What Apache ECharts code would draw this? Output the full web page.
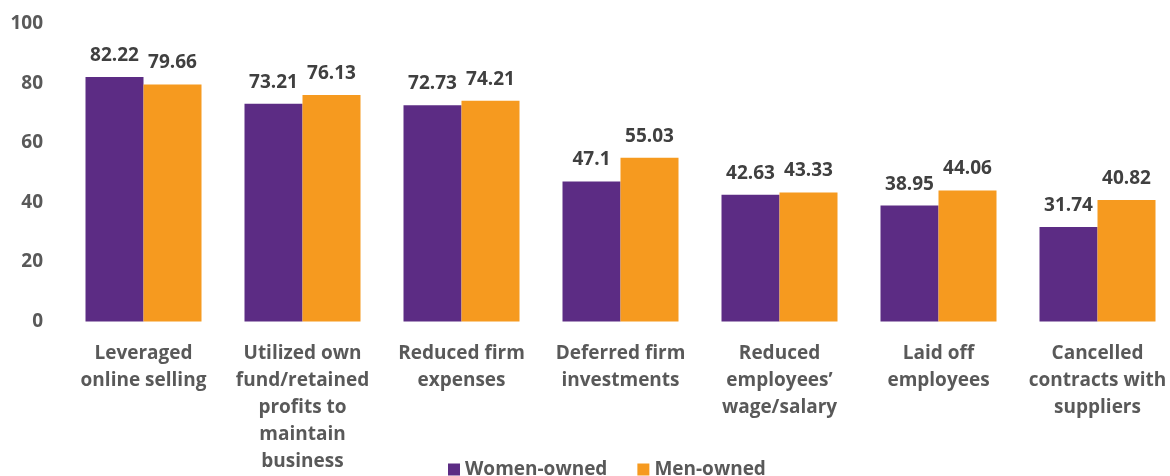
<!DOCTYPE html>
<html>
<head>
<meta charset="utf-8">
<script src="https://cdn.jsdelivr.net/npm/echarts@6/dist/echarts.min.js"></script>
<style>
  html, body { margin: 0; padding: 0; background: #fff; }
  #chart { width: 1170px; height: 476px; }
</style>
</head>
<body>
<div id="chart"></div>
<script>
// categories and values
const categories = [
  'Leveraged\nonline selling',
  'Utilized own\nfund/retained\nprofits to\nmaintain\nbusiness',
  'Reduced firm\nexpenses',
  'Deferred firm\ninvestments',
  'Reduced\nemployees\u2019\nwage/salary',
  'Laid off\nemployees',
  'Cancelled\ncontracts with\nsuppliers'
];
const womenOwned = [82.22, 73.21, 72.73, 47.1, 42.63, 38.95, 31.74];
const menOwned = [79.66, 76.13, 74.21, 55.03, 43.33, 44.06, 40.82];
const yTicks = [0, 20, 40, 60, 80, 100];

const font = "'Open Sans', 'Noto Sans', sans-serif";
const chart = echarts.init(document.getElementById('chart'));

// same look for both series labels
const barLabel = {
  show: true,
  position: 'top',
  distance: 12,
  fontFamily: font,
  fontSize: 19,
  fontWeight: 'bold',
  color: '#404040'
};

chart.setOption({
  animation: false,
  textStyle: { fontFamily: font },
  grid: { left: 64, top: 24, width: 1113, height: 297.5, outerBoundsMode: 'none', containLabel: false },
  legend: {
    left: 443,
    top: 455,
    itemWidth: 12,
    itemHeight: 12,
    itemGap: 30,
    icon: 'rect',
    textStyle: { fontFamily: font, fontSize: 19, fontWeight: 'bold', color: '#595959' },
    data: ['Women-owned', 'Men-owned']
  },
  xAxis: {
    type: 'category',
    data: categories,
    axisLine: { show: false },
    axisTick: { show: false },
    axisLabel: {
      interval: 0,
      margin: 19,
      fontFamily: font,
      fontSize: 19,
      fontWeight: 'bold',
      lineHeight: 27,
      color: '#595959'
    }
  },
  yAxis: {
    type: 'value',
    min: yTicks[0],
    max: yTicks[yTicks.length - 1],
    interval: 20,
    splitLine: { show: false },
    axisLine: { show: false },
    axisTick: { show: false },
    axisLabel: {
      margin: 21,
      fontFamily: font,
      fontSize: 19,
      fontWeight: 'bold',
      color: '#595959'
    }
  },
  series: [
    {
      name: 'Women-owned',
      type: 'bar',
      data: womenOwned,
      barWidth: 58,
      barGap: '0%',
      itemStyle: { color: '#5C2C84' },
      label: barLabel
    },
    {
      name: 'Men-owned',
      type: 'bar',
      data: menOwned,
      barWidth: 58,
      itemStyle: { color: '#F69A1F' },
      label: barLabel
    }
  ]
});
</script>
</body>
</html>
